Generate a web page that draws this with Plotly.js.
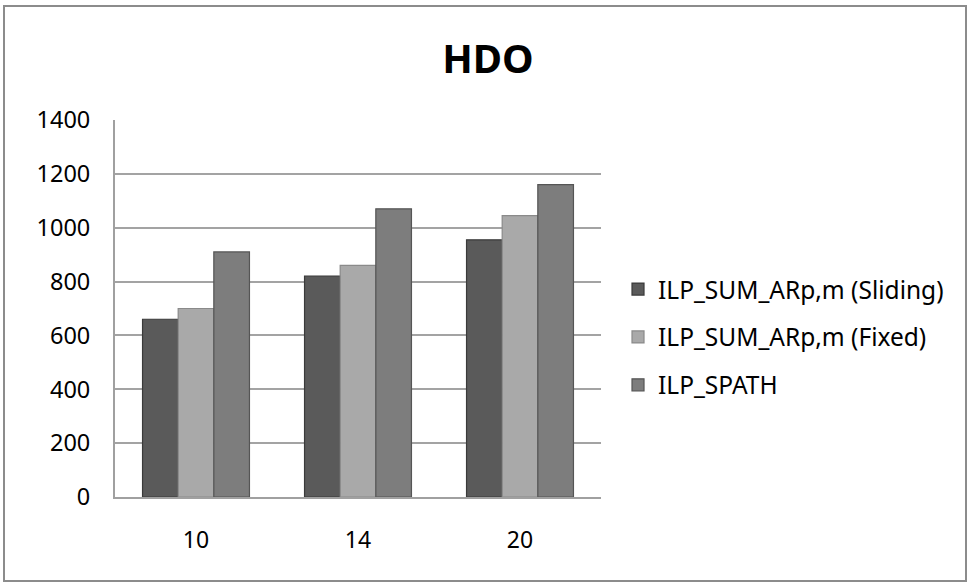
<!DOCTYPE html>
<html>
<head>
<meta charset="utf-8">
<script src="https://cdn.plot.ly/plotly-3.0.1.min.js"></script>
<style>
  html, body { margin: 0; padding: 0; background: #ffffff; }
  #frame { position: absolute; left: 3px; top: 5px; width: 964px; height: 577px; border: 2px solid #8c8c8c; box-sizing: border-box; }
  #chart { position: absolute; left: 0; top: 0; width: 970px; height: 583px; }
</style>
</head>
<body>
<div id="frame"></div>
<div id="chart"></div>
<script>
const categories = ["10", "14", "20"];
const seriesNames = ["ILP_SUM_ARp,m (Sliding)", "ILP_SUM_ARp,m (Fixed)", "ILP_SPATH"];
const sliding = [660, 820, 955];
const fixed = [700, 860, 1045];
const spath = [910, 1070, 1160];
const yTicks = [0, 200, 400, 600, 800, 1000, 1200, 1400];

const fills = ["#5a5a5a", "#a9a9a9", "#7d7d7d"];
const edges = ["#3a3a3a", "#8a8a8a", "#555555"];
const values = [sliding, fixed, spath];

const traces = values.map((v, i) => ({
  type: "bar",
  name: seriesNames[i],
  x: categories,
  y: v,
  legendgroup: "g" + i,
  marker: { color: fills[i], line: { color: edges[i], width: 1.2 } },
  hoverinfo: "x+y+name"
}));

const font = "Noto Sans, Open Sans, sans-serif";
const layout = {
  width: 970,
  height: 583,
  margin: { l: 115, r: 369, t: 120, b: 86 },
  paper_bgcolor: "rgba(0,0,0,0)",
  plot_bgcolor: "rgba(0,0,0,0)",
  title: {
    text: "<b>HDO</b>",
    font: { family: font, size: 40, color: "#000000" },
    x: 0.503, xanchor: "center",
    y: 0.898, yanchor: "middle"
  },
  barmode: "group",
  bargap: 0.34,
  bargroupgap: 0,
  xaxis: {
    type: "category",
    showgrid: false,
    showline: true,
    linecolor: "#a0a0a0",
    linewidth: 2,
    ticks: "",
    tickfont: { family: font, size: 23, color: "#000000" },
    ticklabelstandoff: 21
  },
  yaxis: {
    range: [0, 1400],
    tickvals: yTicks,
    ticktext: yTicks.map(String),
    showgrid: true,
    gridcolor: "#a3a3a3",
    gridwidth: 1.5,
    showline: true,
    linecolor: "#a0a0a0",
    linewidth: 2,
    zeroline: false,
    ticks: "",
    tickfont: { family: font, size: 23.5, color: "#000000" },
    ticklabelstandoff: 18
  },
  legend: {
    x: 1.035, xanchor: "left",
    y: 0.424, yanchor: "middle",
    traceorder: "grouped",
    tracegroupgap: 13,
    font: { family: font, size: 24.5, color: "#000000" },
    bgcolor: "rgba(0,0,0,0)"
  },
  showlegend: true
};

Plotly.newPlot("chart", traces, layout, { displayModeBar: false, responsive: false });
</script>
</body>
</html>
